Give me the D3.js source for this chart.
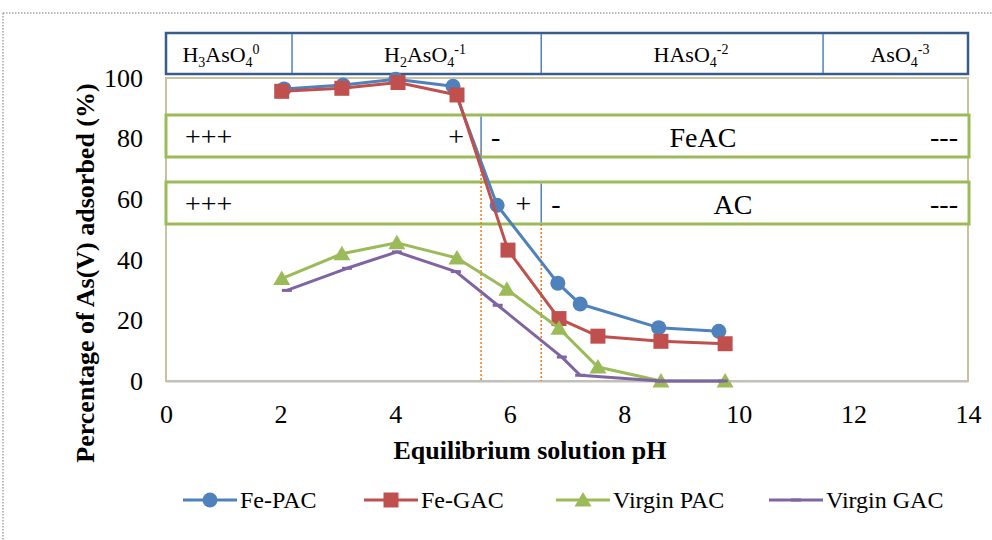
<!DOCTYPE html>
<html>
<head>
<meta charset="utf-8">
<script src="https://cdn.jsdelivr.net/npm/d3@7"></script>
<style>
  body { margin: 0; background: #fff; }
  text { font-family: "Liberation Serif", "Times New Roman", serif; fill: #000; }
</style>
</head>
<body>
<svg id="chart" width="992" height="540"></svg>
<script>
const pHFePAC = [2.06, 3.09, 4.01, 5.01, 5.78, 6.84, 7.23, 8.6, 9.65];
const valFePAC = [96.4, 97.7, 99.6, 97.3, 58, 32.3, 25.4, 17.6, 16.4];
const pHFeGAC = [2.02, 3.07, 4.05, 5.08, 5.97, 6.86, 7.54, 8.64, 9.76];
const valFeGAC = [95.6, 96.6, 98.5, 94.4, 43.2, 20.6, 14.8, 13.1, 12.3];
const pHVirPAC = [2.02, 3.07, 4.03, 5.08, 5.95, 6.86, 7.54, 8.64, 9.76];
const valVirPAC = [33.8, 42, 45.6, 40.6, 30.3, 17.4, 4.6, 0, 0];
const pHVirGAC = [2.11, 3.16, 4.03, 5.06, 5.79, 6.91, 7.23, 8.62, 9.72];
const valVirGAC = [29.9, 37.2, 42.6, 36.1, 25, 7.9, 1.9, 0, 0];

const seriesNames = ["Fe-PAC", "Fe-GAC", "Virgin PAC", "Virgin GAC"];
const xTicks = [0, 2, 4, 6, 8, 10, 12, 14];
const yTicks = [0, 20, 40, 60, 80, 100];

// arsenate species bands (pH boundaries)
const speciesBounds = [0, 2.2, 6.55, 11.47, 14];
const speciesLabels = [
  [["H", 0], ["3", -1], ["AsO", 0], ["4", -1], ["0", 1]],
  [["H", 0], ["2", -1], ["AsO", 0], ["4", -1], ["-1", 1]],
  [["HAsO", 0], ["4", -1], ["-2", 1]],
  [["AsO", 0], ["4", -1], ["-3", 1]]
];
// surface charge boxes
const pzcFeAC = 5.5;
const pzcAC = 6.55;

const svg = d3.select("#chart");
const margin = { top: 78, right: 24, bottom: 159, left: 166 };
const width = 992 - margin.left - margin.right;
const height = 540 - margin.top - margin.bottom;

const x = d3.scaleLinear().domain([0, 14]).range([margin.left, margin.left + width]);
const y = d3.scaleLinear().domain([0, 100]).range([margin.top + height, margin.top]);

const colors = ["#4f81bd", "#c0504d", "#9bbb59", "#8064a2"];

// outer dotted frame
svg.append("line").attr("x1", 3).attr("x2", 992).attr("y1", 13).attr("y2", 13)
  .attr("stroke", "#777").attr("stroke-width", 1).attr("stroke-dasharray", "1.5,1.5");
svg.append("line").attr("x1", 3).attr("x2", 3).attr("y1", 13).attr("y2", 540)
  .attr("stroke", "#777").attr("stroke-width", 1).attr("stroke-dasharray", "1.5,1.5");

// plot area
svg.append("rect")
  .attr("x", x(0)).attr("y", y(100))
  .attr("width", x(14) - x(0)).attr("height", y(0) - y(100))
  .attr("fill", "none").attr("stroke", "#c9c2a0").attr("stroke-width", 2);

// axes
const xAxis = svg.append("g")
  .attr("transform", `translate(0,${y(0)})`)
  .call(d3.axisBottom(x).tickValues(xTicks).tickSize(0).tickPadding(24));
xAxis.select(".domain").attr("stroke", "#bfbfbf").attr("stroke-width", 2);
xAxis.selectAll("text").attr("font-size", 26);

const yAxis = svg.append("g")
  .attr("transform", `translate(${x(0)},0)`)
  .call(d3.axisLeft(y).tickValues(yTicks).tickSize(0).tickPadding(23));
yAxis.select(".domain").remove();
yAxis.selectAll("text").attr("font-size", 26);

svg.append("text")
  .attr("x", 530).attr("y", 459)
  .attr("text-anchor", "middle")
  .attr("font-size", 26).attr("font-weight", "bold")
  .text("Equilibrium solution pH");

svg.append("text")
  .attr("transform", `translate(94,273) rotate(-90)`)
  .attr("text-anchor", "middle")
  .attr("font-size", 26).attr("font-weight", "bold")
  .text("Percentage of As(V) adsorbed (%)");

// species box
const spTop = 33, spBot = 74;
const labelCx = [221, 425, 691, 900];
svg.append("rect")
  .attr("x", x(0)).attr("y", spTop)
  .attr("width", x(14) - x(0)).attr("height", spBot - spTop)
  .attr("fill", "#fff").attr("stroke", "#385d8a").attr("stroke-width", 2.5);
speciesBounds.slice(1, -1).forEach((b) => {
  svg.append("line")
    .attr("x1", x(b)).attr("x2", x(b)).attr("y1", spTop + 1).attr("y2", spBot - 1)
    .attr("stroke", "#4f81bd").attr("stroke-width", 1.5);
});
speciesLabels.forEach((parts, i) => {
  const t = svg.append("text")
    .attr("x", labelCx[i]).attr("y", 62)
    .attr("text-anchor", "middle")
    .attr("font-size", 22);
  parts.forEach(([s, k]) => {
    t.append("tspan")
      .attr("font-size", k === 0 ? 22 : 14)
      .attr("baseline-shift", k < 0 ? "-5" : k > 0 ? "8" : "0")
      .text(s);
  });
});

// charge boxes
function chargeBox(top, bot, pzc, name, plusGap, nameX) {
  svg.append("rect")
    .attr("x", x(0)).attr("y", top)
    .attr("width", x(14) - x(0) + 1).attr("height", bot - top)
    .attr("fill", "#fff").attr("stroke", "#9bbb59").attr("stroke-width", 3);
  svg.append("line")
    .attr("x1", x(pzc)).attr("x2", x(pzc)).attr("y1", top + 1.5).attr("y2", bot - 1.5)
    .attr("stroke", "#4f81bd").attr("stroke-width", 1.5);
  const ty = (top + bot) / 2 + 10;
  svg.append("text").attr("x", x(0) + 19).attr("y", ty).attr("font-size", 28).text("+++");
  svg.append("text").attr("x", x(pzc) - plusGap).attr("y", ty).attr("font-size", 28)
    .attr("text-anchor", "end").text("+");
  svg.append("text").attr("x", x(pzc) + 10).attr("y", ty).attr("font-size", 28).text("-");
  svg.append("text").attr("x", x(14) - 10).attr("y", ty).attr("font-size", 28)
    .attr("text-anchor", "end").text("---");
  svg.append("text").attr("x", nameX).attr("y", ty + 1)
    .attr("font-size", 28).attr("text-anchor", "middle").text(name);
}
chargeBox(115, 157, pzcFeAC, "FeAC", 17, 703);
chargeBox(182, 224, pzcAC, "AC", 10, 733);

// orange dotted pzc lines
svg.append("line")
  .attr("x1", x(pzcFeAC)).attr("x2", x(pzcFeAC)).attr("y1", 150).attr("y2", y(0))
  .attr("stroke", "#f07a1a").attr("stroke-width", 1.5).attr("stroke-dasharray", "2,2");
svg.append("line")
  .attr("x1", x(pzcAC)).attr("x2", x(pzcAC)).attr("y1", 224).attr("y2", y(0))
  .attr("stroke", "#f07a1a").attr("stroke-width", 1.5).attr("stroke-dasharray", "2,2");

// series
const series = [
  { pH: pHFePAC, v: valFePAC },
  { pH: pHFeGAC, v: valFeGAC },
  { pH: pHVirPAC, v: valVirPAC },
  { pH: pHVirGAC, v: valVirGAC }
];
const line = d3.line().x((d) => x(d[0])).y((d) => y(d[1]));

function marker(g, i, cx, cy) {
  if (i === 0) {
    g.append("circle").attr("cx", cx).attr("cy", cy).attr("r", 7.5).attr("fill", colors[0]);
  } else if (i === 1) {
    g.append("rect").attr("x", cx - 7.5).attr("y", cy - 7.5).attr("width", 15).attr("height", 15)
      .attr("fill", colors[1]);
  } else if (i === 2) {
    g.append("path").attr("d", `M${cx},${cy - 8}L${cx + 8.5},${cy + 6.5}L${cx - 8.5},${cy + 6.5}Z`)
      .attr("fill", colors[2]);
  } else {
    g.append("rect").attr("x", cx - 5).attr("y", cy - 1.5).attr("width", 10).attr("height", 3)
      .attr("fill", colors[3]);
  }
}

series.forEach((s, i) => {
  const pts = s.pH.map((p, j) => [p, s.v[j]]);
  const g = svg.append("g");
  g.append("path").datum(pts).attr("d", line)
    .attr("fill", "none").attr("stroke", colors[i]).attr("stroke-width", 3)
    .attr("stroke-linejoin", "round");
  pts.forEach((d) => marker(g, i, x(d[0]), y(d[1])));
});

// legend
const legendX = [183, 364, 556, 769];
seriesNames.forEach((n, i) => {
  const g = svg.append("g");
  const lx = legendX[i], ly = 500;
  g.append("line").attr("x1", lx).attr("x2", lx + 54).attr("y1", ly).attr("y2", ly)
    .attr("stroke", colors[i]).attr("stroke-width", 3);
  marker(g, i, lx + 27, ly);
  g.append("text").attr("x", lx + 57).attr("y", ly + 8).attr("font-size", 24).text(n);
});
</script>
</body>
</html>
